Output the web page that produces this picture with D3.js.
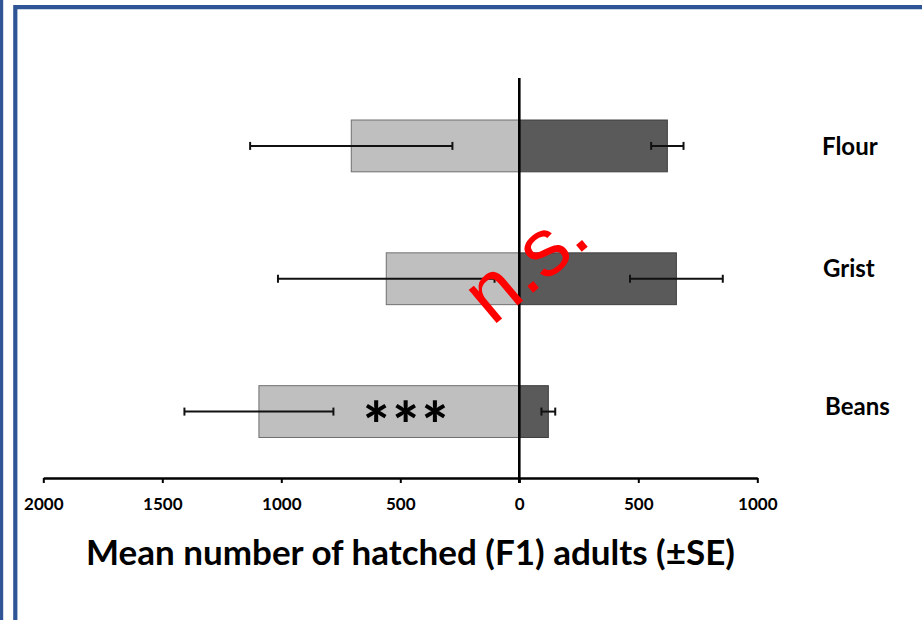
<!DOCTYPE html>
<html>
<head>
<meta charset="utf-8">
<script src="https://cdn.jsdelivr.net/npm/d3@7"></script>
<style>
  html, body { margin: 0; padding: 0; background: #fff; }
  svg { display: block; }
</style>
</head>
<body>
<svg id="chart" width="922" height="620"></svg>
<script>
// ---- data ----
const categories = ["Flour", "Grist", "Beans"];
const leftValues = [706, 559, 1094];   // plotted to the left of zero
const leftSE = [425, 455, 313];
const rightValues = [622, 660, 122];   // plotted to the right of zero
const rightSE = [68, 195, 29];
const tickValues = [-2000, -1500, -1000, -500, 0, 500, 1000];
const axisTitle = "Mean number of hatched (F1) adults (±SE)";
const sigLabels = ["", "n.s.", "***"];

// layout constants (not data)
const labelDy = [9, -2, 3];
const labelX = [822, 823, 825];

const svg = d3.select("#chart");
const W = 922, H = 620;
const blue = "#2F5597";

// frame
svg.append("rect").attr("x", 0).attr("y", 0).attr("width", 3.2).attr("height", H).attr("fill", blue);
svg.append("path").attr("d", `M15.3,${H} V7.2 H${W}`).attr("fill", "none")
  .attr("stroke", blue).attr("stroke-width", 4.2);

const x = d3.scaleLinear().domain([-2000, 1000]).range([43.3, 757.3]);
const y = d3.scaleBand().domain(categories).range([79.5, 478]).paddingInner(0.61).paddingOuter(0.305);

const rows = categories.map((c, i) => ({
  c, i, lv: leftValues[i], ls: leftSE[i], rv: rightValues[i], rs: rightSE[i], sig: sigLabels[i]
}));

// bars
const g = svg.append("g");
g.selectAll("rect.left").data(rows).join("rect")
  .attr("class", "left")
  .attr("x", d => x(-d.lv)).attr("y", d => y(d.c))
  .attr("width", d => x(0) - x(-d.lv)).attr("height", y.bandwidth())
  .attr("fill", "#BFBFBF").attr("stroke", "#6f6f6f").attr("stroke-width", 1);
g.selectAll("rect.right").data(rows).join("rect")
  .attr("class", "right")
  .attr("x", x(0)).attr("y", d => y(d.c))
  .attr("width", d => x(d.rv) - x(0)).attr("height", y.bandwidth())
  .attr("fill", "#5A5A5A").attr("stroke", "#3f3f3f").attr("stroke-width", 1);

// error bars
const capH = 8;
const eb = svg.append("g").attr("stroke", "#111").attr("stroke-width", 2);
const ebData = [];
rows.forEach(d => {
  ebData.push({ c: d.c, m: -d.lv, se: d.ls });
  ebData.push({ c: d.c, m: d.rv, se: d.rs });
});
const cy = d => y(d.c) + y.bandwidth() / 2;
eb.selectAll("line.h").data(ebData).join("line").attr("class", "h")
  .attr("x1", d => x(d.m - d.se)).attr("x2", d => x(d.m + d.se))
  .attr("y1", cy).attr("y2", cy);
eb.selectAll("line.c1").data(ebData).join("line").attr("class", "c1")
  .attr("x1", d => x(d.m - d.se)).attr("x2", d => x(d.m - d.se))
  .attr("y1", d => cy(d) - capH / 2).attr("y2", d => cy(d) + capH / 2);
eb.selectAll("line.c2").data(ebData).join("line").attr("class", "c2")
  .attr("x1", d => x(d.m + d.se)).attr("x2", d => x(d.m + d.se))
  .attr("y1", d => cy(d) - capH / 2).attr("y2", d => cy(d) + capH / 2);

// x axis
const axisY = 478;
const axis = d3.axisBottom(x).tickValues(tickValues).tickSize(5).tickSizeOuter(0)
  .tickFormat(d => Math.abs(d));
const ag = svg.append("g").attr("transform", `translate(0,${axisY})`).call(axis);
ag.select(".domain").attr("stroke", "#000").attr("stroke-width", 2.6);
ag.selectAll(".tick line").attr("stroke", "#000").attr("stroke-width", 2);
ag.selectAll(".tick text").attr("fill", "#000").attr("dy", null).attr("y", 32)
  .style("font-family", "Lato, 'Open Sans', sans-serif").style("font-weight", "bold").style("font-size", "17px");

// zero line
svg.append("line").attr("x1", x(0)).attr("x2", x(0)).attr("y1", 78).attr("y2", axisY + 5)
  .attr("stroke", "#000").attr("stroke-width", 2.6);

// category labels
svg.selectAll("text.cat").data(categories).join("text")
  .attr("class", "cat")
  .attr("x", (d, i) => labelX[i]).attr("y", (d, i) => y(d) + y.bandwidth() / 2 + labelDy[i])
  .style("font-family", "Lato, sans-serif").style("font-weight", "bold").style("font-size", "24px")
  .attr("fill", "#000").text(d => d);

// significance labels
const beans = rows[2];
svg.append("text")
  .attr("x", (x(-beans.lv) + x(0)) / 2 + 18).attr("y", cy(beans) + 36)
  .attr("text-anchor", "middle")
  .attr("letter-spacing", "3px")
  .style("font-family", "Lato, sans-serif").style("font-weight", "900").style("font-size", "62px")
  .attr("fill", "#000").text(beans.sig);

const grist = rows[1];
svg.append("text")
  .attr("transform", `translate(${x(0) - 27},${cy(grist) + 48}) rotate(-40)`)
  .style("font-family", "'Liberation Sans', Arial, sans-serif").style("font-size", "82px")
  .attr("fill", "#FF0000").text(grist.sig);

// axis title
svg.append("text").attr("x", 410.5).attr("y", 565).attr("text-anchor", "middle")
  .style("font-family", "Lato, sans-serif").style("font-weight", "bold").style("font-size", "35px")
  .attr("fill", "#000").text(axisTitle);
</script>
</body>
</html>
